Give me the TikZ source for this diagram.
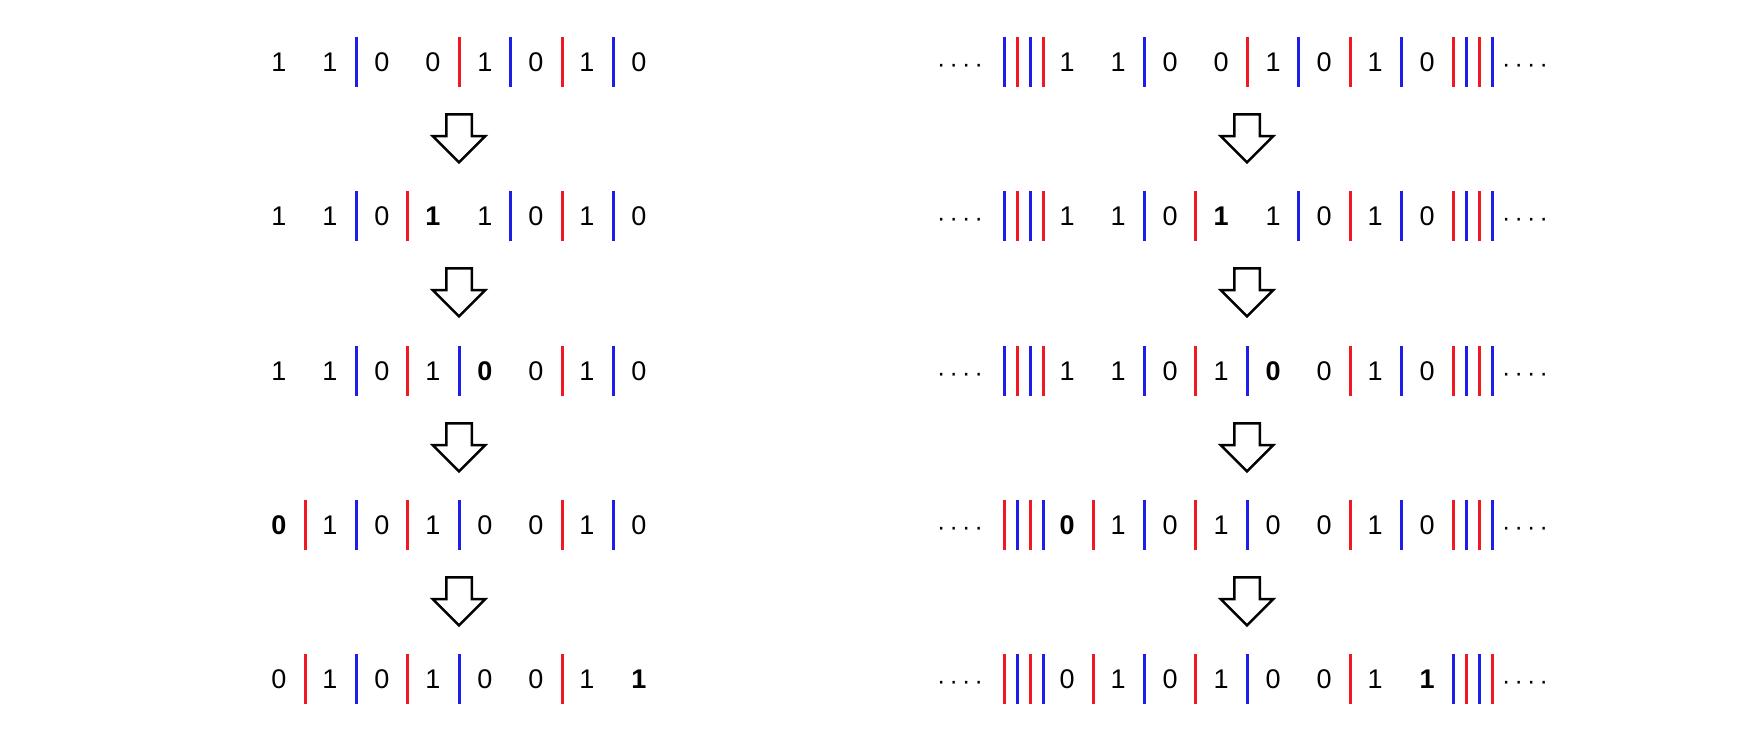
\documentclass[tikz,border=0pt]{standalone}
\usepackage{fontspec}
\setmainfont{Liberation Sans}
\usetikzlibrary{shapes.arrows}
\definecolor{barred}{RGB}{240,25,35}
\definecolor{barblue}{RGB}{30,30,235}
\begin{document}
\begin{tikzpicture}[x=1pt,y=-1pt,
  dig/.style={inner sep=0pt,font=\fontsize{27}{32}\selectfont},
  bdig/.style={inner sep=0pt,font=\fontsize{27}{32}\selectfont\bfseries},
  rbar/.style={fill=barred,inner sep=0pt,outer sep=0pt,minimum width=3pt,minimum height=50pt},
  bbar/.style={fill=barblue,inner sep=0pt,outer sep=0pt,minimum width=3pt,minimum height=50pt},
  dots/.style={anchor=base,inner sep=0pt,font=\fontsize{25}{30}\selectfont},
  down/.style={single arrow,draw=black,fill=white,line width=2.5pt,inner xsep=0pt,inner ysep=11.5pt,
    minimum height=48pt,minimum width=50pt,single arrow head extend=13.5pt,rotate=-90}]
\useasboundingbox (0,0) rectangle (1762,747);
% left, row 1
\node[dig] (l1d0) at (279,62) {1};
\node[dig] (l1d1) at (330,62) {1};
\node[dig] (l1d2) at (382,62) {0};
\node[dig] (l1d3) at (433,62) {0};
\node[dig] (l1d4) at (485,62) {1};
\node[dig] (l1d5) at (536,62) {0};
\node[dig] (l1d6) at (587,62) {1};
\node[dig] (l1d7) at (639,62) {0};
\node[bbar] (l1s2) at (356,62) {};
\node[rbar] (l1s4) at (459,62) {};
\node[bbar] (l1s5) at (510,62) {};
\node[rbar] (l1s6) at (562,62) {};
\node[bbar] (l1s7) at (613,62) {};
% left, row 2
\node[dig] (l2d0) at (279,216) {1};
\node[dig] (l2d1) at (330,216) {1};
\node[dig] (l2d2) at (382,216) {0};
\node[bdig] (l2d3) at (433,216) {1};
\node[dig] (l2d4) at (485,216) {1};
\node[dig] (l2d5) at (536,216) {0};
\node[dig] (l2d6) at (587,216) {1};
\node[dig] (l2d7) at (639,216) {0};
\node[bbar] (l2s2) at (356,216) {};
\node[rbar] (l2s3) at (407,216) {};
\node[bbar] (l2s5) at (510,216) {};
\node[rbar] (l2s6) at (562,216) {};
\node[bbar] (l2s7) at (613,216) {};
% left, row 3
\node[dig] (l3d0) at (279,371) {1};
\node[dig] (l3d1) at (330,371) {1};
\node[dig] (l3d2) at (382,371) {0};
\node[dig] (l3d3) at (433,371) {1};
\node[bdig] (l3d4) at (485,371) {0};
\node[dig] (l3d5) at (536,371) {0};
\node[dig] (l3d6) at (587,371) {1};
\node[dig] (l3d7) at (639,371) {0};
\node[bbar] (l3s2) at (356,371) {};
\node[rbar] (l3s3) at (407,371) {};
\node[bbar] (l3s4) at (459,371) {};
\node[rbar] (l3s6) at (562,371) {};
\node[bbar] (l3s7) at (613,371) {};
% left, row 4
\node[bdig] (l4d0) at (279,525) {0};
\node[dig] (l4d1) at (330,525) {1};
\node[dig] (l4d2) at (382,525) {0};
\node[dig] (l4d3) at (433,525) {1};
\node[dig] (l4d4) at (485,525) {0};
\node[dig] (l4d5) at (536,525) {0};
\node[dig] (l4d6) at (587,525) {1};
\node[dig] (l4d7) at (639,525) {0};
\node[rbar] (l4s1) at (305,525) {};
\node[bbar] (l4s2) at (356,525) {};
\node[rbar] (l4s3) at (407,525) {};
\node[bbar] (l4s4) at (459,525) {};
\node[rbar] (l4s6) at (562,525) {};
\node[bbar] (l4s7) at (613,525) {};
% left, row 5
\node[dig] (l5d0) at (279,679) {0};
\node[dig] (l5d1) at (330,679) {1};
\node[dig] (l5d2) at (382,679) {0};
\node[dig] (l5d3) at (433,679) {1};
\node[dig] (l5d4) at (485,679) {0};
\node[dig] (l5d5) at (536,679) {0};
\node[dig] (l5d6) at (587,679) {1};
\node[bdig] (l5d7) at (639,679) {1};
\node[rbar] (l5s1) at (305,679) {};
\node[bbar] (l5s2) at (356,679) {};
\node[rbar] (l5s3) at (407,679) {};
\node[bbar] (l5s4) at (459,679) {};
\node[rbar] (l5s6) at (562,679) {};
% left arrows
\node[down] (la1) at (459,132) {};
\node[down] (la2) at (459,286) {};
\node[down] (la3) at (459,441) {};
\node[down] (la4) at (459,595) {};
% right, row 1
\node[dots] (r1dl) at (960,72) {·\,·\,·\,·};
\node[bbar] (r1g1) at (1004,62) {};
\node[rbar] (r1g2) at (1017,62) {};
\node[bbar] (r1g3) at (1030,62) {};
\node[rbar] (r1g4) at (1043,62) {};
\node[dig] (r1d0) at (1067,62) {1};
\node[dig] (r1d1) at (1118,62) {1};
\node[dig] (r1d2) at (1170,62) {0};
\node[dig] (r1d3) at (1221,62) {0};
\node[dig] (r1d4) at (1273,62) {1};
\node[dig] (r1d5) at (1324,62) {0};
\node[dig] (r1d6) at (1375,62) {1};
\node[dig] (r1d7) at (1427,62) {0};
\node[bbar] (r1s2) at (1144,62) {};
\node[rbar] (r1s4) at (1247,62) {};
\node[bbar] (r1s5) at (1298,62) {};
\node[rbar] (r1s6) at (1350,62) {};
\node[bbar] (r1s7) at (1401,62) {};
\node[rbar] (r1g5) at (1453,62) {};
\node[bbar] (r1g6) at (1466,62) {};
\node[rbar] (r1g7) at (1479,62) {};
\node[bbar] (r1g8) at (1492,62) {};
\node[dots] (r1dr) at (1525,72) {·\,·\,·\,·};
% right, row 2
\node[dots] (r2dl) at (960,226) {·\,·\,·\,·};
\node[bbar] (r2g1) at (1004,216) {};
\node[rbar] (r2g2) at (1017,216) {};
\node[bbar] (r2g3) at (1030,216) {};
\node[rbar] (r2g4) at (1043,216) {};
\node[dig] (r2d0) at (1067,216) {1};
\node[dig] (r2d1) at (1118,216) {1};
\node[dig] (r2d2) at (1170,216) {0};
\node[bdig] (r2d3) at (1221,216) {1};
\node[dig] (r2d4) at (1273,216) {1};
\node[dig] (r2d5) at (1324,216) {0};
\node[dig] (r2d6) at (1375,216) {1};
\node[dig] (r2d7) at (1427,216) {0};
\node[bbar] (r2s2) at (1144,216) {};
\node[rbar] (r2s3) at (1195,216) {};
\node[bbar] (r2s5) at (1298,216) {};
\node[rbar] (r2s6) at (1350,216) {};
\node[bbar] (r2s7) at (1401,216) {};
\node[rbar] (r2g5) at (1453,216) {};
\node[bbar] (r2g6) at (1466,216) {};
\node[rbar] (r2g7) at (1479,216) {};
\node[bbar] (r2g8) at (1492,216) {};
\node[dots] (r2dr) at (1525,226) {·\,·\,·\,·};
% right, row 3
\node[dots] (r3dl) at (960,381) {·\,·\,·\,·};
\node[bbar] (r3g1) at (1004,371) {};
\node[rbar] (r3g2) at (1017,371) {};
\node[bbar] (r3g3) at (1030,371) {};
\node[rbar] (r3g4) at (1043,371) {};
\node[dig] (r3d0) at (1067,371) {1};
\node[dig] (r3d1) at (1118,371) {1};
\node[dig] (r3d2) at (1170,371) {0};
\node[dig] (r3d3) at (1221,371) {1};
\node[bdig] (r3d4) at (1273,371) {0};
\node[dig] (r3d5) at (1324,371) {0};
\node[dig] (r3d6) at (1375,371) {1};
\node[dig] (r3d7) at (1427,371) {0};
\node[bbar] (r3s2) at (1144,371) {};
\node[rbar] (r3s3) at (1195,371) {};
\node[bbar] (r3s4) at (1247,371) {};
\node[rbar] (r3s6) at (1350,371) {};
\node[bbar] (r3s7) at (1401,371) {};
\node[rbar] (r3g5) at (1453,371) {};
\node[bbar] (r3g6) at (1466,371) {};
\node[rbar] (r3g7) at (1479,371) {};
\node[bbar] (r3g8) at (1492,371) {};
\node[dots] (r3dr) at (1525,381) {·\,·\,·\,·};
% right, row 4
\node[dots] (r4dl) at (960,535) {·\,·\,·\,·};
\node[rbar] (r4g1) at (1004,525) {};
\node[bbar] (r4g2) at (1017,525) {};
\node[rbar] (r4g3) at (1030,525) {};
\node[bbar] (r4g4) at (1043,525) {};
\node[bdig] (r4d0) at (1067,525) {0};
\node[dig] (r4d1) at (1118,525) {1};
\node[dig] (r4d2) at (1170,525) {0};
\node[dig] (r4d3) at (1221,525) {1};
\node[dig] (r4d4) at (1273,525) {0};
\node[dig] (r4d5) at (1324,525) {0};
\node[dig] (r4d6) at (1375,525) {1};
\node[dig] (r4d7) at (1427,525) {0};
\node[rbar] (r4s1) at (1093,525) {};
\node[bbar] (r4s2) at (1144,525) {};
\node[rbar] (r4s3) at (1195,525) {};
\node[bbar] (r4s4) at (1247,525) {};
\node[rbar] (r4s6) at (1350,525) {};
\node[bbar] (r4s7) at (1401,525) {};
\node[rbar] (r4g5) at (1453,525) {};
\node[bbar] (r4g6) at (1466,525) {};
\node[rbar] (r4g7) at (1479,525) {};
\node[bbar] (r4g8) at (1492,525) {};
\node[dots] (r4dr) at (1525,535) {·\,·\,·\,·};
% right, row 5
\node[dots] (r5dl) at (960,689) {·\,·\,·\,·};
\node[rbar] (r5g1) at (1004,679) {};
\node[bbar] (r5g2) at (1017,679) {};
\node[rbar] (r5g3) at (1030,679) {};
\node[bbar] (r5g4) at (1043,679) {};
\node[dig] (r5d0) at (1067,679) {0};
\node[dig] (r5d1) at (1118,679) {1};
\node[dig] (r5d2) at (1170,679) {0};
\node[dig] (r5d3) at (1221,679) {1};
\node[dig] (r5d4) at (1273,679) {0};
\node[dig] (r5d5) at (1324,679) {0};
\node[dig] (r5d6) at (1375,679) {1};
\node[bdig] (r5d7) at (1427,679) {1};
\node[rbar] (r5s1) at (1093,679) {};
\node[bbar] (r5s2) at (1144,679) {};
\node[rbar] (r5s3) at (1195,679) {};
\node[bbar] (r5s4) at (1247,679) {};
\node[rbar] (r5s6) at (1350,679) {};
\node[bbar] (r5g5) at (1453,679) {};
\node[rbar] (r5g6) at (1466,679) {};
\node[bbar] (r5g7) at (1479,679) {};
\node[rbar] (r5g8) at (1492,679) {};
\node[dots] (r5dr) at (1525,689) {·\,·\,·\,·};
% right arrows
\node[down] (ra1) at (1247,132) {};
\node[down] (ra2) at (1247,286) {};
\node[down] (ra3) at (1247,441) {};
\node[down] (ra4) at (1247,595) {};
\end{tikzpicture}
\end{document}
